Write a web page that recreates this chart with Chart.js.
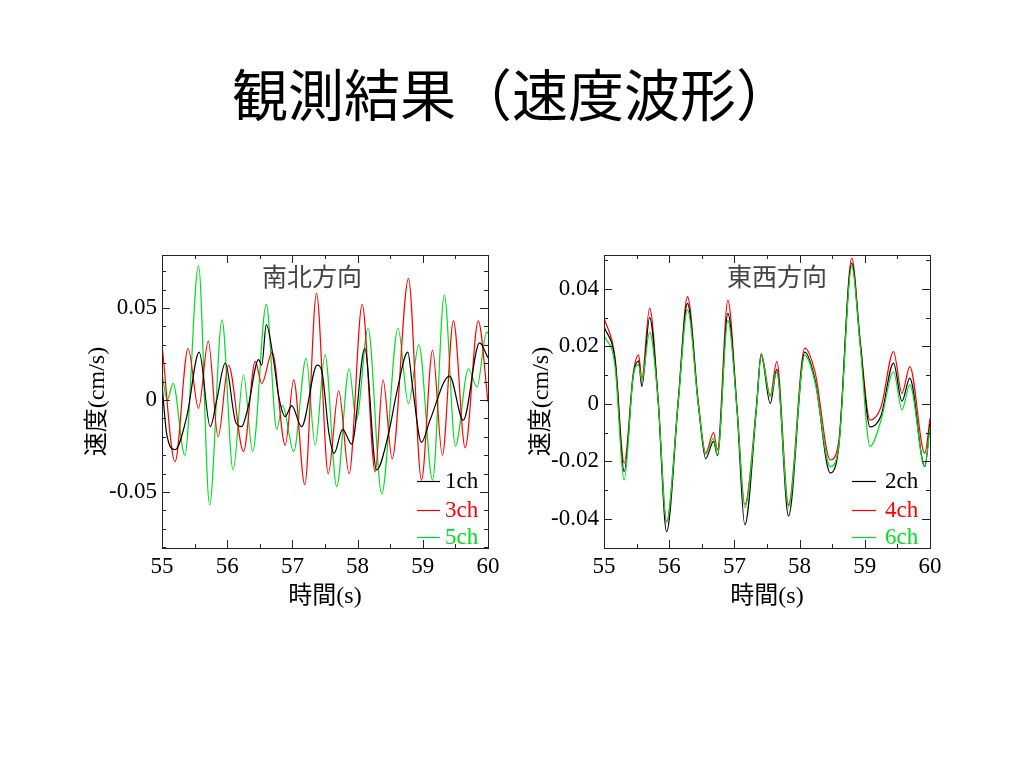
<!DOCTYPE html>
<html>
<head>
<meta charset="utf-8">
<script src="https://cdn.jsdelivr.net/npm/chart.js@4.4.1/dist/chart.umd.min.js"></script>
<style>
  body { margin: 0; background: #fff; width: 1024px; height: 768px; position: relative; overflow: hidden; }
  #title { position: absolute; left: 0; top: 64px; width: 1024px; text-align: center;
           font-family: "Noto Sans CJK JP", sans-serif; font-size: 56px; line-height: 1; color: #000; }
  canvas { position: absolute; }
  #nsChart { left: 70px; top: 240px; }
  #ewChart { left: 510px; top: 240px; }
</style>
</head>
<body>
<div id="title">観測結果（速度波形）</div>
<canvas id="nsChart" width="440" height="385"></canvas>
<canvas id="ewChart" width="440" height="385"></canvas>
<script>
// 共通の目盛り
const xTickLabels = [55, 56, 57, 58, 59, 60];
const nsYTicks = [-0.05, 0, 0.05];
const ewYTicks = [-0.04, -0.02, 0, 0.02, 0.04];

// 南北方向 (1ch, 3ch, 5ch) : 時刻[s] と 速度[cm/s]
const ns1chT = [55.00, 55.07, 55.20, 55.38, 55.57, 55.74, 55.84, 55.97, 56.13, 56.22, 56.32, 56.48, 56.53, 56.60, 56.71, 56.79, 56.89, 56.99, 57.14, 57.38, 57.45, 57.56, 57.64, 57.77, 57.91, 58.11, 58.29, 58.47, 58.60, 58.77, 58.84, 58.98, 59.11, 59.41, 59.62, 59.87, 60.00];
const ns1chV = [0.009, -0.018, -0.027, -0.009, 0.026, -0.0145, 0.000, 0.020, -0.012, -0.0145, -0.004, 0.022, 0.019, 0.041, 0.022, 0.002, -0.009, -0.003, -0.0145, 0.019, 0.016, -0.018, -0.029, -0.016, -0.024, 0.028, -0.038, -0.019, 0.004, 0.026, 0.008, -0.023, -0.011, 0.013, -0.011, 0.031, 0.023];

const ns3chT = [55.00, 55.20, 55.40, 55.56, 55.71, 55.86, 56.02, 56.25, 56.43, 56.53, 56.69, 56.89, 57.02, 57.19, 57.37, 57.55, 57.71, 57.87, 58.07, 58.27, 58.39, 58.53, 58.78, 58.98, 59.15, 59.30, 59.47, 59.65, 59.85, 60.00];
const ns3chV = [0.030, -0.0335, 0.028, -0.0045, 0.032, -0.020, 0.019, -0.028, 0.021, 0.009, 0.026, -0.0245, 0.011, -0.046, 0.058, -0.040, 0.005, -0.040, 0.052, -0.039, 0.011, -0.032, 0.066, -0.0435, 0.027, -0.030, 0.043, -0.026, 0.043, -0.001];

const ns5chT = [55.00, 55.08, 55.17, 55.35, 55.56, 55.73, 55.92, 56.09, 56.25, 56.39, 56.60, 56.76, 56.85, 57.02, 57.21, 57.35, 57.50, 57.68, 57.87, 57.98, 58.16, 58.37, 58.62, 58.78, 58.94, 59.15, 59.33, 59.50, 59.70, 59.83, 59.98, 60.00];
const ns5chV = [0.0145, 0.000, 0.009, -0.030, 0.073, -0.057, 0.0435, -0.038, 0.0136, -0.028, 0.052, -0.016, -0.003, -0.028, 0.0226, -0.0245, 0.0245, -0.047, 0.017, -0.011, 0.039, -0.051, 0.039, -0.002, 0.030, -0.0435, 0.057, -0.025, 0.017, 0.007, 0.037, 0.036];

// 東西方向 (2ch, 4ch, 6ch) : ほぼ同じ時刻で読み取り
const ewT = [55.00, 55.17, 55.31, 55.45, 55.53, 55.58, 55.70, 55.83, 55.96, 56.14, 56.28, 56.45, 56.56, 56.68, 56.74, 56.90, 57.04, 57.16, 57.34, 57.41, 57.55, 57.65, 57.83, 58.08, 58.24, 58.47, 58.60, 58.80, 58.93, 59.08, 59.25, 59.44, 59.57, 59.69, 59.92, 60.00];
const ew2chV = [0.027, 0.015, -0.0235, 0.010, 0.015, 0.006, 0.030, 0.001, -0.0444, 0.001, 0.035, -0.001, -0.019, -0.013, -0.018, 0.0315, -0.002, -0.042, -0.001, 0.017, 0.0002, 0.012, -0.039, 0.018, 0.008, -0.024, -0.015, 0.049, 0.021, -0.008, -0.004, 0.0142, 0.001, 0.009, -0.0218, -0.007];
const ew4chV = [0.030, 0.016, -0.0206, 0.011, 0.017, 0.009, 0.0333, 0.002, -0.041, 0.002, 0.0373, 0.000, -0.017, -0.010, -0.016, 0.036, -0.001, -0.035, 0.000, 0.0175, 0.003, 0.0147, -0.035, 0.0194, 0.0107, -0.0195, -0.013, 0.0507, 0.022, -0.0056, -0.001, 0.0182, 0.0037, 0.013, -0.0172, -0.005];
const ew6chV = [0.024, 0.013, -0.0264, 0.010, 0.0136, 0.008, 0.025, 0.001, -0.041, 0.001, 0.0327, -0.001, -0.0175, -0.012, -0.0177, 0.029, -0.002, -0.036, -0.001, 0.017, 0.0025, 0.011, -0.0357, 0.017, 0.0072, -0.0218, -0.0148, 0.0478, 0.020, -0.0148, -0.0056, 0.0112, -0.002, 0.0066, -0.0218, -0.008];

const BLACK = '#000000';
const RED = '#ff0000';
const GREEN = '#00dd22';
const SERIF = '"Liberation Serif", "Noto Sans CJK JP", serif';

function pts(t, v) {
  return t.map((x, i) => ({ x: x, y: v[i] }));
}

function ds(label, t, v, color, order) {
  return {
    label: label,
    data: pts(t, v),
    borderColor: color,
    borderWidth: 1.2,
    pointRadius: 0,
    cubicInterpolationMode: 'monotone',
    fill: false,
    order: order
  };
}

// 枠と内向きの目盛り（上下左右）
const frameTicks = {
  id: 'frameTicks',
  afterDraw(chart, args, opts) {
    const { ctx, chartArea: a, scales: { x, y } } = chart;
    ctx.save();
    ctx.strokeStyle = '#222';
    ctx.lineWidth = 1;
    ctx.strokeRect(Math.round(a.left) + 0.5, Math.round(a.top) + 0.5,
                   Math.round(a.right - a.left), Math.round(a.bottom - a.top));
    ctx.beginPath();
    const nx = Math.round((x.max - x.min) / opts.xMinor);
    for (let i = 0; i <= nx; i++) {
      const v = x.min + i * opts.xMinor;
      const px = Math.round(x.getPixelForValue(v)) + 0.5;
      const major = Math.abs(v / opts.xMajor - Math.round(v / opts.xMajor)) < 1e-6;
      const len = major ? 8 : 4;
      ctx.moveTo(px, a.bottom); ctx.lineTo(px, a.bottom - len);
      ctx.moveTo(px, a.top); ctx.lineTo(px, a.top + len);
    }
    const start = Math.ceil(y.min / opts.yMinor - 1e-6);
    const end = Math.floor(y.max / opts.yMinor + 1e-6);
    for (let k = start; k <= end; k++) {
      const v = k * opts.yMinor;
      const py = Math.round(y.getPixelForValue(v)) + 0.5;
      const major = Math.abs(v / opts.yMajor - Math.round(v / opts.yMajor)) < 1e-6;
      const len = major ? 8 : 4;
      ctx.moveTo(a.left, py); ctx.lineTo(a.left + len, py);
      ctx.moveTo(a.right, py); ctx.lineTo(a.right - len, py);
    }
    ctx.stroke();
    ctx.restore();
  }
};

// グラフ内の見出しと凡例
const innerText = {
  id: 'innerText',
  afterDraw(chart, args, opts) {
    const { ctx, chartArea: a } = chart;
    ctx.save();
    ctx.font = '25px "Noto Sans CJK JP", sans-serif';
    ctx.fillStyle = '#444';
    ctx.textAlign = 'center';
    ctx.textBaseline = 'middle';
    ctx.fillText(opts.heading, a.left + opts.headX, a.top + opts.headY);

    ctx.font = '23px ' + SERIF;
    ctx.textAlign = 'left';
    ctx.lineWidth = 1.2;
    chart.data.datasets.forEach((d, i) => {
      const yy = a.bottom - opts.rows[i];
      ctx.strokeStyle = d.borderColor;
      ctx.beginPath();
      ctx.moveTo(a.right - opts.line0, Math.round(yy) + 0.5);
      ctx.lineTo(a.right - opts.line1, Math.round(yy) + 0.5);
      ctx.stroke();
      ctx.fillStyle = d.borderColor;
      ctx.fillText(d.label, a.right - opts.textX, yy + 1);
    });
    ctx.restore();
  }
};

function makeChart(id, datasets, yMin, yMax, yTicks, yTitlePad, yWidth, padRight, head) {
  const el = document.getElementById(id);
  return new Chart(el, {
    type: 'line',
    data: { datasets: datasets },
    options: {
      responsive: false,
      animation: false,
      layout: { padding: { top: 15, right: padRight, left: 0, bottom: 0 } },
      plugins: {
        legend: { display: false },
        tooltip: { enabled: false },
        frameTicks: { xMinor: 0.5, xMajor: 1, yMinor: 0.01, yMajor: yTicks[1] - yTicks[0] },
        innerText: head
      },
      scales: {
        x: {
          type: 'linear',
          min: 55,
          max: 60,
          afterBuildTicks: s => { s.ticks = xTickLabels.map(v => ({ value: v })); },
          afterFit: s => { s.height = 77; s.paddingLeft = 0; s.paddingRight = 0; },
          grid: { display: false, drawTicks: false },
          border: { display: false },
          ticks: { color: '#000', padding: 5, maxRotation: 0, font: { family: SERIF, size: 23 },
                   callback: v => String(v) },
          title: { display: true, text: '時間(s)', color: '#000', padding: { top: 0, bottom: 14 },
                   font: { family: SERIF, size: 24 } }
        },
        y: {
          min: yMin,
          max: yMax,
          afterBuildTicks: s => { s.ticks = yTicks.map(v => ({ value: v })); },
          afterFit: s => { s.width = yWidth; s.paddingTop = 0; s.paddingBottom = 0; },
          grid: { display: false, drawTicks: false },
          border: { display: false },
          ticks: { color: '#000', padding: 5, font: { family: SERIF, size: 23 },
                   callback: v => String(v) },
          title: { display: true, text: '速度(cm/s)', color: '#000', padding: { top: yTitlePad, bottom: 0 },
                   font: { family: SERIF, size: 24 } }
        }
      }
    },
    plugins: [frameTicks, innerText]
  });
}

makeChart('nsChart', [
  ds('1ch', ns1chT, ns1chV, BLACK, 0),
  ds('3ch', ns3chT, ns3chV, RED, 1),
  ds('5ch', ns5chT, ns5chV, GREEN, 2)
], -0.0804, 0.0788, nsYTicks, 13, 92, 22,
  { heading: '南北方向', headX: 150, headY: 21, rows: [67, 38, 11], line0: 71, line1: 48, textX: 43 });

makeChart('ewChart', [
  ds('2ch', ewT, ew2chV, BLACK, 1),
  ds('4ch', ewT, ew4chV, RED, 2),
  ds('6ch', ewT, ew6chV, GREEN, 0)
], -0.0501, 0.0518, ewYTicks, 17, 94, 20,
  { heading: '東西方向', headX: 173, headY: 21, rows: [67, 38, 11], line0: 78, line1: 54, textX: 45 });
</script>
</body>
</html>
